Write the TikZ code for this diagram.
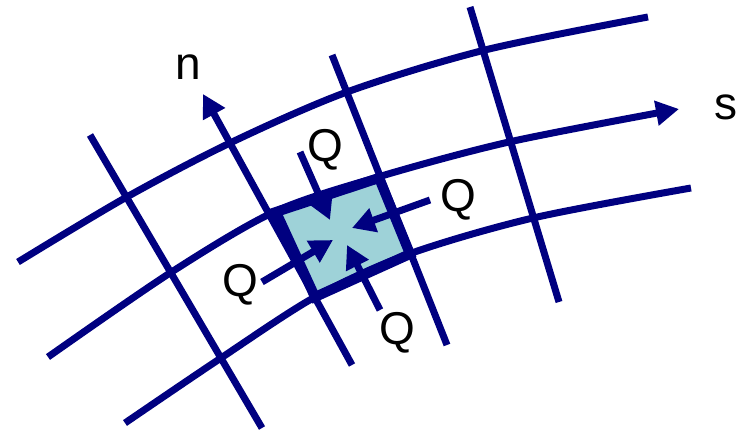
\documentclass[tikz,border=0pt]{standalone}
\usepackage{fontspec}
\setmainfont{Liberation Sans}
\usetikzlibrary{arrows.meta}
\definecolor{navy}{RGB}{0,0,128}
\definecolor{cellblue}{RGB}{158,210,216}

\begin{document}
\begin{tikzpicture}[x=1pt,y=-1pt,>={Triangle[length=23pt,width=24pt]},
  grd/.style={draw=navy,line width=7pt},
  edge/.style={draw=navy,line width=10pt,line join=miter},
  flux/.style={draw=navy,line width=7pt,->},
  lbl/.style={font=\fontsize{46}{48}\selectfont,inner sep=0pt}]
\useasboundingbox (0,0) rectangle (746,435);
% cell corners
\coordinate (c1) at (276,212);
\coordinate (c2) at (379,178);
\coordinate (c3) at (410,254);
\coordinate (c4) at (315,297);
\fill[cellblue] (c1) -- (c2) -- (c3) -- (c4) -- cycle;
% streamlines
\draw[grd] plot[smooth] coordinates {(18,262) (125,198) (230,143) (347,92) (485,50) (648,17)};
\draw[grd,->] plot[smooth] coordinates {(48,357) (170,273) (274,212) (378,177) (509,142) (679,109)};
\draw[grd] plot[smooth] coordinates {(125,423) (218,360) (315,297) (409,254) (533,218) (691,188)};
% cross lines
\coordinate (a0) at (90,135);  \coordinate (a1) at (262,428);
\coordinate (b0) at (352,365); \coordinate (b1) at (203,94);
\coordinate (d0) at (332,55);  \coordinate (d1) at (447,345);
\coordinate (e0) at (470,7);   \coordinate (e1) at (559,302);
\draw[grd] (a0) -- (a1);
\draw[flux] (b0) -- (b1);
\draw[grd] (d0) -- (d1);
\draw[grd] (e0) -- (e1);
\node[lbl] (n) at (188,67) {n};
\node[lbl] (s) at (726,107) {s};
% cell border
\draw[edge] (c1) -- (c2) -- (c3) -- (c4) -- cycle;
% fluxes
\node[lbl] (qt) at (325,150) {Q};
\node[lbl] (qr) at (458,200) {Q};
\node[lbl] (qb) at (397,333) {Q};
\node[lbl] (ql) at (240,285) {Q};
\coordinate (qt0) at (300,152); \coordinate (qt1) at (330,220);
\coordinate (qr0) at (430,200); \coordinate (qr1) at (352,228);
\coordinate (qb0) at (380,310); \coordinate (qb1) at (347,245);
\coordinate (ql0) at (262,282); \coordinate (ql1) at (333,240);
\draw[flux] (qt0) -- (qt1);
\draw[flux] (qr0) -- (qr1);
\draw[flux] (qb0) -- (qb1);
\draw[flux] (ql0) -- (ql1);
\end{tikzpicture}
\end{document}
